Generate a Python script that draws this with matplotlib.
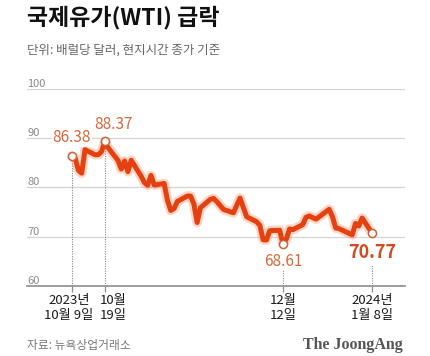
import matplotlib
matplotlib.use("Agg")
import matplotlib.pyplot as plt
import matplotlib.transforms as mtransforms
import pandas as pd

plt.rcParams['font.family'] = ['Noto Sans CJK KR', 'DejaVu Sans']

dates = ["2023-10-09", "2023-10-10", "2023-10-11", "2023-10-12", "2023-10-13",
         "2023-10-16", "2023-10-17", "2023-10-18", "2023-10-19", "2023-10-20",
         "2023-10-23", "2023-10-24", "2023-10-25", "2023-10-26", "2023-10-27",
         "2023-10-30", "2023-10-31", "2023-11-01", "2023-11-02", "2023-11-03",
         "2023-11-06", "2023-11-07", "2023-11-08", "2023-11-09", "2023-11-10",
         "2023-11-13", "2023-11-14", "2023-11-15", "2023-11-16", "2023-11-17",
         "2023-11-20", "2023-11-21", "2023-11-22", "2023-11-24",
         "2023-11-27", "2023-11-28", "2023-11-29", "2023-11-30", "2023-12-01",
         "2023-12-04", "2023-12-05", "2023-12-06", "2023-12-07", "2023-12-08",
         "2023-12-11", "2023-12-12", "2023-12-13", "2023-12-14", "2023-12-15",
         "2023-12-18", "2023-12-19", "2023-12-20", "2023-12-21", "2023-12-22",
         "2023-12-26", "2023-12-27", "2023-12-28", "2023-12-29",
         "2024-01-02", "2024-01-03", "2024-01-04", "2024-01-05", "2024-01-08"]
prices = [86.38, 85.97, 83.49, 82.91, 87.69,
          86.66, 86.66, 87.27, 89.37, 88.08,
          85.49, 83.74, 85.39, 83.21, 85.54,
          82.31, 81.02, 80.44, 82.46, 80.51,
          80.82, 77.37, 75.33, 75.74, 77.17,
          78.26, 78.26, 76.66, 72.90, 75.89,
          77.60, 77.77, 77.10, 75.54,
          74.86, 76.41, 77.86, 75.96, 74.07,
          73.04, 72.32, 69.38, 69.34, 71.23,
          71.32, 68.61, 69.47, 71.58, 71.43,
          72.47, 73.94, 74.22, 73.89, 73.56,
          75.57, 74.11, 71.77, 71.65,
          70.38, 72.70, 72.19, 73.81, 70.77]

marked_dates = ["2023-10-09", "2023-10-19", "2023-12-12", "2024-01-08"]
marked_labels = ["86.38", "88.37", "68.61", "70.77"]
tick_labels = ["2023년\n10월 9일", "10월\n19일", "12월\n12일", "2024년\n1월 8일"]
y_ticks = [60, 70, 80, 90, 100]

title = "국제유가(WTI) 급락"
subtitle = "단위: 배럴당 달러, 현지시간 종가 기준"
source = "자료: 뉴욕상업거래소"
brand = "The JoongAng"

x = pd.to_datetime(dates)
s = pd.Series(prices, index=x)
mx = pd.to_datetime(marked_dates)
mv = [s[d] for d in mx]

fig = plt.figure(figsize=(4.3, 3.56), dpi=100)
ax = fig.add_axes([27/430, 1-286/356, 378/430, (286-89)/356])

ax.set_ylim(60, 100)
ax.set_xlim(pd.Timestamp("2023-09-25 10:00"), pd.Timestamp("2024-01-18"))

for yv in y_ticks[1:]:
    ax.axhline(yv, color="#d4d4d4", lw=0.9, zorder=1)
ax.set_yticks([])
for yv in y_ticks:
    ax.text(0, yv, str(yv), transform=ax.get_yaxis_transform(), ha="left", va="bottom",
            fontsize=8, color="#8a8a8a", clip_on=False)

for sp in ["top", "right", "left"]:
    ax.spines[sp].set_visible(False)
ax.spines["bottom"].set_color("#8c8c8c")
ax.spines["bottom"].set_linewidth(1.2)

ax.set_xticks(mx)
ax.set_xticklabels(tick_labels, fontsize=9.5, color="#1a1a1a", linespacing=1.2,
                   fontweight="medium")
ax.tick_params(axis="x", length=4, width=0.9, color="#8c8c8c", pad=2)
shifts = [-3, 8, 0, 0]
for lab, dx in zip(ax.get_xticklabels(), shifts):
    lab.set_transform(lab.get_transform() +
                      mtransforms.ScaledTranslation(dx/100, 0, fig.dpi_scale_trans))

# dotted guide lines
tops = [mv[0], mv[1], 63.4, 64.4]
for d, t in zip(mx, tops):
    ax.plot([d, d], [60, t], color="#888888", lw=0.8, ls=(0, (1, 1.2)), zorder=2)

# glow + line
ax.plot(x, prices, color="#f58a5c", lw=7, alpha=0.35, solid_joinstyle="round",
        solid_capstyle="round", zorder=3)
ax.plot(x, prices, color="#e5400f", lw=3.6, solid_joinstyle="round",
        solid_capstyle="round", zorder=4)
ax.scatter(mx, mv, s=34, facecolor="white", edgecolor="#c8643a", linewidth=1.1, zorder=5)

offsets = [(0, 7), (6, 6), (0, -6.5), (0, -7)]
vas = ["bottom", "bottom", "top", "top"]
sizes = [11, 11, 11, 13]
weights = ["normal", "normal", "normal", "bold"]
colors = ["#d6673a", "#d6673a", "#d6673a", "#d24a1f"]
for d, v, lab, off, va, fs, fw, c in zip(mx, mv, marked_labels, offsets, vas, sizes, weights, colors):
    ax.annotate(lab, xy=(d, v), xytext=off, textcoords="offset points", ha="center",
                va=va, fontsize=fs, fontweight=fw, color=c, zorder=6,
                bbox=dict(boxstyle="square,pad=0.05", fc="white", ec="none"))

fig.text(27/430, 1-18/356, title, fontsize=16.5, fontweight="bold", color="#111111",
         ha="left", va="center")
fig.text(27/430, 1-50/356, subtitle, fontsize=9, color="#666666", ha="left", va="center")
fig.text(27/430, 1-345/356, source, fontsize=8.5, color="#777777", ha="left", va="center")
fig.text(403/430, 1-345/356, brand, fontsize=11.5, fontweight="bold", color="#555555",
         ha="right", va="center", family=["Liberation Serif", "DejaVu Serif"])

fig.savefig("out.png", dpi=100)
